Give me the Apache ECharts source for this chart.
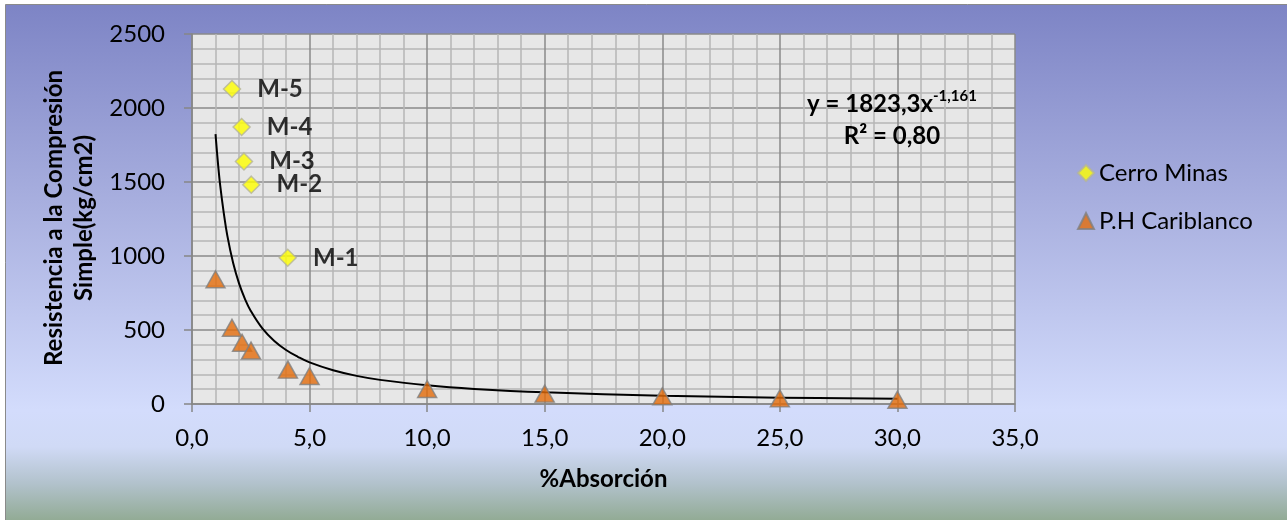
<!DOCTYPE html>
<html>
<head>
<meta charset="utf-8">
<script src="https://cdn.jsdelivr.net/npm/echarts@6/dist/echarts.min.js"></script>
<style>html,body{margin:0;padding:0;background:#fff}#c{width:1287px;height:520px}</style>
</head>
<body>
<div id="c"></div>
<script>
var cerroNames = ['M-1', 'M-2', 'M-3', 'M-4', 'M-5'];
var cerroX = [4.07, 2.52, 2.21, 2.11, 1.70];
var cerroY = [988, 1482, 1639, 1872, 2128];
var caribX = [1.0, 1.70, 2.13, 2.51, 4.08, 5.0, 10, 15, 20, 25, 30];
var caribY = [843, 515, 414, 361, 232, 189, 101, 70, 52, 38, 29];
var trendX = [1, 1.1, 1.2, 1.35, 1.5, 1.75, 2, 2.25, 2.5, 3, 3.5, 4, 4.5, 5, 6, 7, 8, 10, 12, 15, 20, 25, 30];
var trendY = [1823, 1634, 1475, 1292, 1139, 952, 815, 711, 629, 509, 426, 365, 319, 281, 228, 190, 163, 126, 102, 79, 56, 43, 35];
var xTicks = { min: 0, max: 35, interval: 5 };
var yTicks = { min: 0, max: 2500, interval: 500 };
var seriesNames = ['Cerro Minas', 'P.H Cariblanco'];
var xTitle = '%Absorción';
var yTitle = 'Resistencia a la Compresión\nSimple(kg/cm2)';
var eqMain = 'y = 1823,3x';
var eqExp = '-1,161';
var eqR2 = 'R² = 0,80';

var FONT = 'Lato';
var cerroData = cerroX.map(function (x, i) { return { value: [x, cerroY[i]], name: cerroNames[i] }; });
var caribData = caribX.map(function (x, i) { return [x, caribY[i]]; });
var trendData = trendX.map(function (x, i) { return [x, trendY[i]]; });

function txt(t, x, y, size, align, extra) {
  var o = {
    type: 'text', x: x, y: y, z: 10,
    style: { text: t, fontSize: size, fontWeight: 'bold', fontFamily: FONT, fill: '#000', align: align, verticalAlign: 'middle', lineWidth: 0 }
  };
  if (extra) { for (var k in extra) o[k] = extra[k]; }
  return o;
}

var chart = echarts.init(document.getElementById('c'), null, { renderer: 'canvas' });
var yTitleEl = txt(yTitle, 69, 218, 24, 'center', { rotation: Math.PI / 2 });
yTitleEl.style.lineHeight = 30;
chart.setOption({
  animation: false,
  backgroundColor: 'transparent',
  textStyle: { fontFamily: FONT },
  graphic: [
    {
      type: 'rect', z: -10, silent: true,
      shape: { x: 5.5, y: 4.5, width: 1290, height: 520 },
      style: {
        fill: new echarts.graphic.LinearGradient(0, 0, 0, 1, [
          { offset: 0, color: '#7d84c5' },
          { offset: 0.4, color: '#aab1e0' },
          { offset: 0.78, color: '#d3dcfc' },
          { offset: 0.85, color: '#d0daf6' },
          { offset: 0.92, color: '#b2c2cc' },
          { offset: 1, color: '#8ea88e' }
        ]),
        stroke: '#8a8a8a', lineWidth: 1
      }
    },
    yTitleEl,
    txt(eqMain, 933, 104, 24, 'right'),
    txt(eqExp, 933, 96, 15, 'left'),
    txt(eqR2, 892, 136, 24, 'center')
  ],
  grid: { left: 192, top: 34, width: 823, height: 370, backgroundColor: '#e7e7e7', show: true, borderWidth: 0 },
  legend: {
    data: seriesNames, orient: 'vertical', left: 1072, top: 156, itemGap: 24,
    itemWidth: 16, itemHeight: 16,
    textStyle: { fontSize: 24, fontFamily: FONT, color: '#000' }
  },
  xAxis: {
    type: 'value', min: xTicks.min, max: xTicks.max, interval: xTicks.interval,
    name: xTitle, nameLocation: 'middle', nameGap: 63,
    nameTextStyle: { fontSize: 24, fontWeight: 'bold', color: '#000', fontFamily: FONT },
    axisLine: { show: true, lineStyle: { color: '#868686', width: 1.5 } },
    axisTick: { show: true, length: 8, lineStyle: { color: '#868686', width: 1.5 } },
    axisLabel: { fontSize: 24, color: '#000', margin: 22, formatter: function (v) { return v.toFixed(1).replace('.', ','); } },
    splitLine: { show: true, lineStyle: { color: '#8a8a8a', width: 1.5 } },
    minorTick: { show: false, splitNumber: 5 },
    minorSplitLine: { show: true, lineStyle: { color: '#b6b6b6', width: 1.5 } }
  },
  yAxis: {
    type: 'value', min: yTicks.min, max: yTicks.max, interval: yTicks.interval,
    axisLine: { show: true, lineStyle: { color: '#868686', width: 1.5 } },
    axisTick: { show: true, length: 8, lineStyle: { color: '#868686', width: 1.5 } },
    axisLabel: { fontSize: 24, color: '#000', margin: 27, formatter: function (v) { return String(v); } },
    splitLine: { show: true, lineStyle: { color: '#8a8a8a', width: 1.5 } },
    minorTick: { show: false, splitNumber: 5 },
    minorSplitLine: { show: true, lineStyle: { color: '#b6b6b6', width: 1.5 } }
  },
  series: [
    {
      name: 'trend', type: 'line', data: trendData, showSymbol: false, symbol: 'none',
      smooth: 0.4, lineStyle: { color: '#000', width: 2 }, z: 3, silent: true
    },
    {
      name: seriesNames[0], type: 'scatter', data: cerroData, symbol: 'diamond', symbolSize: 17,
      itemStyle: { color: '#ffff00', borderColor: '#b4b49a', borderWidth: 1.5 },
      label: { show: true, position: 'right', distance: 16, formatter: '{b}', fontSize: 24, fontWeight: 'bold', color: '#000', fontFamily: FONT },
      z: 5
    },
    {
      name: seriesNames[1], type: 'scatter', data: caribData, symbol: 'triangle', symbolSize: [19, 17],
      itemStyle: { color: '#e46c0a', borderColor: '#7f7f7f', borderWidth: 1.5 },
      z: 4
    }
  ]
});
</script>
</body>
</html>
